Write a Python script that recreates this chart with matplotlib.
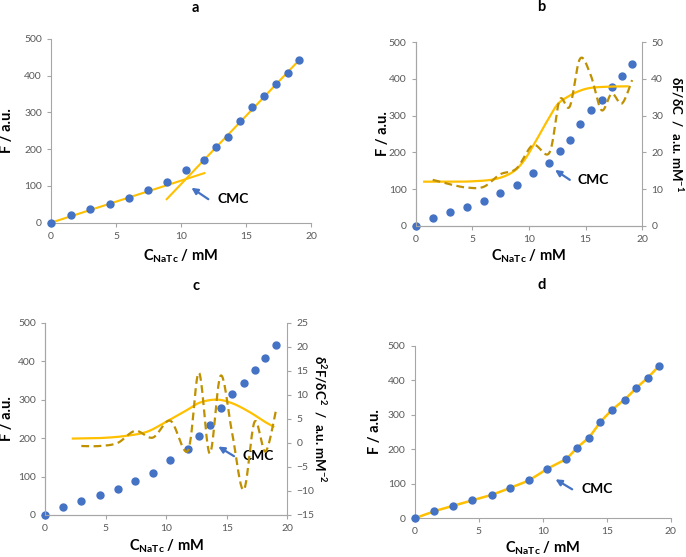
import matplotlib
matplotlib.use("Agg")
import matplotlib.pyplot as plt
import numpy as np

# ── style ────────────────────────────────────────────────
plt.rcParams.update({
    "font.family": ["Lato", "DejaVu Sans"],
    "mathtext.fontset": "custom",
    "mathtext.rm": "Lato",
    "mathtext.bf": "Lato:bold",
    "mathtext.it": "Lato:italic",
    "axes.spines.top": False,
    "axes.spines.right": False,
    "axes.edgecolor": "#A6A6A6",
    "xtick.color": "#A6A6A6",
    "ytick.color": "#A6A6A6",
    "xtick.labelcolor": "#595959",
    "ytick.labelcolor": "#595959",
    "xtick.labelsize": 7.5,
    "ytick.labelsize": 7.5,
    "xtick.major.size": 3,
    "ytick.major.size": 3,
})

BLUE = "#4472C4"
ORANGE = "#FFC000"
GOLD = "#BF9000"

# ── data ────────────────────────────────────────────────
conc = [0, 1.5, 3.0, 4.5, 6.0, 7.45, 8.9, 10.35, 11.8, 12.7, 13.6, 14.5, 15.45, 16.4, 17.3, 18.2, 19.1]
F = [0, 20, 36, 52, 68, 88, 110, 143, 172, 205, 234, 278, 315, 344, 377, 407, 442]

# linear fits (panel a)
fit_pre_x = [0, 11.8]
fit_pre_y = [0, 135]
fit_post_x = [8.9, 19.1]
fit_post_y = [64, 443]

# first derivative (panel b)
d1_x = conc[1:]
d1_y = [12.5, 11.3, 10.4, 10.6, 14.0, 15.6, 22.0, 19.9, 34.3, 32.5, 45.5, 41.0, 31.5, 36.0, 33.3, 39.7]
d1_fit_x = [0.75, 3, 5, 7, 8.5, 9.5, 10.5, 11.5, 12.5, 13.5, 14.5, 15.5, 17, 18.7]
d1_fit_y = [12, 12, 12.1, 12.7, 14.5, 17.5, 22.5, 28, 33, 35.3, 36.8, 37.6, 37.9, 38]

# second derivative (panel c)
d2_x = conc[2:]
d2_y = [-0.65, -0.65, 0, 2.5, 1.1, 4.6, -1.6, 14.6, -2.2, 14.0, 2.0, -9.8, 4.4, -1.8, 7.2]
d2_fit_x = [2.3, 4.5, 6.5, 8.4, 10, 11.7, 12.8, 14.2, 15.5, 16.9, 18.0, 18.85]
d2_fit_y = [0.9, 1.0, 1.4, 2.3, 4.4, 6.8, 8.4, 9.0, 8.2, 6.4, 4.6, 3.4]


def smooth(x, y, n=24):
    # Excel-like smoothed line (Bezier through points)
    p = np.column_stack([x, y]).astype(float)
    m = len(p)
    out = [p[0]]
    t = np.linspace(0, 1, n)[1:, None]
    for i in range(m - 1):
        p0 = p[i - 1] if i > 0 else p[i]
        p3 = p[i + 2] if i + 2 < m else p[i + 1]
        c1 = p[i] + (p[i + 1] - p0) / 6
        c2 = p[i + 1] - (p3 - p[i]) / 6
        seg = ((1 - t) ** 3 * p[i] + 3 * (1 - t) ** 2 * t * c1
               + 3 * (1 - t) * t ** 2 * c2 + t ** 3 * p[i + 1])
        out.extend(seg)
    return np.array(out)


W, H = 686, 557
fig = plt.figure(figsize=(W / 100, H / 100), dpi=100)


def make_ax(l, r, t, b):
    return fig.add_axes([l / W, 1 - b / H, (r - l) / W, (b - t) / H])


def base(ax, ylab_x, xlab_y):
    ax.set_xlim(0, 20)
    ax.set_ylim(0, 500)
    ax.set_xticks([0, 5, 10, 15, 20])
    ax.set_yticks(range(0, 501, 100))
    ax.set_ylabel("F / a.u.", fontsize=10.5, fontweight="bold", color="black", va="center")
    ax.yaxis.set_label_coords(ylab_x, 0.5)
    ax.set_xlabel(r"C$_{\mathbf{NaTc}}$ / mM", fontsize=10.5, fontweight="bold", va="center")
    ax.xaxis.set_label_coords(0.5, xlab_y)
    ax.patch.set_alpha(0)


def points(ax):
    ax.plot(conc, F, "o", color=BLUE, ms=5, mec=BLUE, clip_on=False, zorder=5)


def cmc(ax, head, tail):
    ax.annotate("", xy=head, xytext=tail,
                arrowprops=dict(arrowstyle="-|>", color=BLUE, lw=1.6,
                                mutation_scale=9, shrinkA=0, shrinkB=0))
    ax.text(tail[0] + 0.7, tail[1], "CMC", fontsize=10, fontweight="bold",
            ha="left", va="center")


# ── a ────────────────────────────────────────────────
ax1 = make_ax(51, 311, 39, 222.7)
base(ax1, -0.169, -0.185)
ax1.plot(fit_pre_x, fit_pre_y, color=ORANGE, lw=1.5)
ax1.plot(fit_post_x, fit_post_y, color=ORANGE, lw=1.5)
points(ax1)
cmc(ax1, (10.8, 95), (12.1, 64))
fig.text(195 / W, 1 - 8 / H, "a", fontsize=10.5, fontweight="bold", ha="center", va="center")

# ── b ────────────────────────────────────────────────
ax2 = make_ax(415.7, 642.3, 42.3, 225.7)
base(ax2, -0.144, -0.169)
points(ax2)
cmc(ax2, (12.3, 152), (13.6, 125))
ax2b = ax2.twinx()
ax2b.spines["right"].set_visible(True)
ax2b.set_ylim(0, 50)
ax2b.set_yticks(range(0, 51, 10))
s = smooth(d1_fit_x, d1_fit_y)
ax2b.plot(s[:, 0], s[:, 1], color=ORANGE, lw=1.6)
s = smooth(d1_x, d1_y)
ax2b.plot(s[:, 0], s[:, 1], color=GOLD, lw=1.6, dashes=(3.5, 2))
ax2b.set_ylabel(r"δF/δC  /  a.u. mM$^{\mathbf{-1}}$", fontsize=9.5, fontweight="bold",
                rotation=270, va="center")
ax2b.yaxis.set_label_coords(1.155, 0.5)
fig.text(541.7 / W, 1 - 7 / H, "b", fontsize=10.5, fontweight="bold", ha="center", va="center")

# ── c ────────────────────────────────────────────────
ax3 = make_ax(45, 287.3, 322.7, 515)
base(ax3, -0.158, -0.165)
points(ax3)
cmc(ax3, (14.3, 178), (15.6, 153))
ax3b = ax3.twinx()
ax3b.spines["right"].set_visible(True)
ax3b.set_ylim(-15, 25)
ax3b.set_yticks(range(-15, 26, 5))
s = smooth(d2_fit_x, d2_fit_y)
ax3b.plot(s[:, 0], s[:, 1], color=ORANGE, lw=1.6)
s = smooth(d2_x, d2_y)
ax3b.plot(s[:, 0], s[:, 1], color=GOLD, lw=1.6, dashes=(3.5, 2))
ax3b.set_ylabel(r"δ$^{\mathbf{2}}$F/δC$^{\mathbf{2}}$  /  a.u. mM$^{\mathbf{-2}}$", fontsize=9.5,
                fontweight="bold", rotation=270, va="center")
ax3b.yaxis.set_label_coords(1.135, 0.5)
fig.text(195.7 / W, 1 - 286 / H, "c", fontsize=10.5, fontweight="bold", ha="center", va="center")

# ── d ────────────────────────────────────────────────
ax4 = make_ax(414.7, 670.7, 345.7, 518.3)
base(ax4, -0.156, -0.174)
s = smooth(conc, F)
ax4.plot(s[:, 0], s[:, 1], color=ORANGE, lw=1.8, clip_on=False)
points(ax4)
cmc(ax4, (11.0, 113), (12.3, 84))
fig.text(542 / W, 1 - 285 / H, "d", fontsize=10.5, fontweight="bold", ha="center", va="center")

fig.savefig("out.png", dpi=100, facecolor="white")
